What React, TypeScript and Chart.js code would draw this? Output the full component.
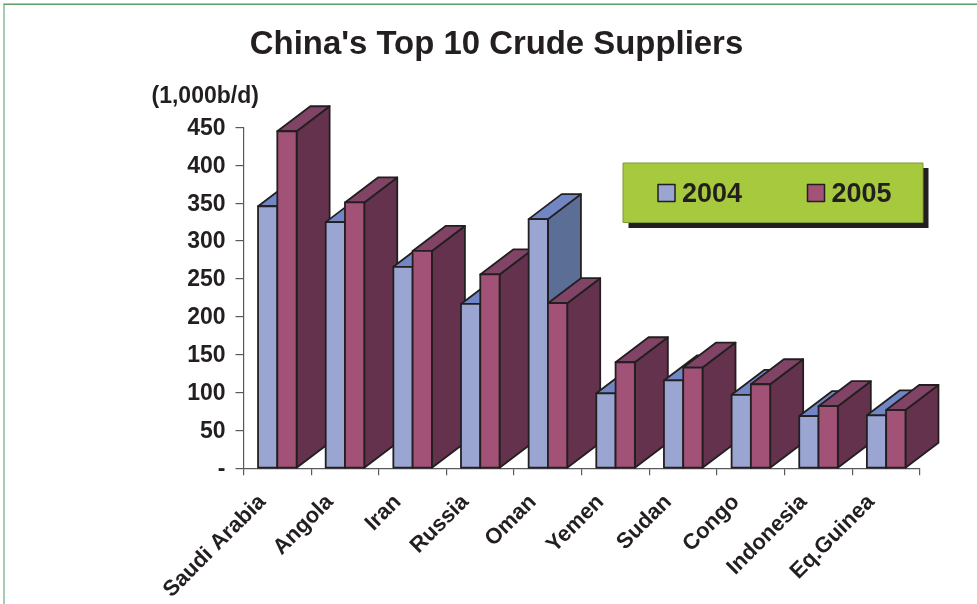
import React, { useEffect, useRef } from "react";
import { Chart, registerables } from "chart.js";

Chart.register(...registerables);

const categories = ["Saudi Arabia", "Angola", "Iran", "Russia", "Oman", "Yemen", "Sudan", "Congo", "Indonesia", "Eq.Guinea"];
const values2004 = [346, 325, 266, 217, 329, 99, 116, 97, 69, 70];
const values2005 = [445, 351, 287, 256, 218, 140, 133, 111, 82, 77];
const titleText = "China's Top 10 Crude Suppliers";
const unitLabel = "(1,000b/d)";

const INK = "#231f20";
const FONT = "'Liberation Sans', Arial, sans-serif";
const DEPTH_X = 33;
const DEPTH_Y = 25;
const faces = [
  { front: "#9aa5d2", top: "#7186c4", side: "#5b6f96" },
  { front: "#a35277", top: "#814466", side: "#64324c" },
];

function poly(ctx: CanvasRenderingContext2D, pts: number[][], fill: string) {
  ctx.beginPath();
  pts.forEach((p, i) => (i ? ctx.lineTo(p[0], p[1]) : ctx.moveTo(p[0], p[1])));
  ctx.closePath();
  ctx.fillStyle = fill;
  ctx.fill();
  ctx.stroke();
}

const scenePlugin = {
  id: "scene",
  beforeDraw(chart: any) {
    const { ctx, width, height } = chart;
    ctx.save();
    ctx.fillStyle = "#ffffff";
    ctx.fillRect(0, 0, width, height);
    ctx.fillStyle = "#a8ccb2";
    ctx.fillRect(3, 3, 2, height);
    ctx.fillRect(3, 3, width, 1);
    ctx.fillStyle = "#5d9e6e";
    ctx.fillRect(4, 4, width, 1);
    ctx.restore();
  },
  beforeDatasetDraw() {
    return false;
  },
  afterDatasetsDraw(chart: any) {
    const { ctx } = chart;
    ctx.save();
    ctx.lineWidth = 1.8;
    ctx.lineJoin = "round";
    ctx.strokeStyle = INK;
    categories.forEach((_, i) => {
      chart.data.datasets.forEach((_d: any, di: number) => {
        const bar = chart.getDatasetMeta(di).data[i].getProps(["x", "y", "base", "width"], true);
        const l = bar.x - bar.width / 2;
        const r = bar.x + bar.width / 2;
        const t = bar.y;
        const b = bar.base;
        const c = faces[di];
        poly(ctx, [[r, b], [r + DEPTH_X, b - DEPTH_Y], [r + DEPTH_X, t - DEPTH_Y], [r, t]], c.side);
        poly(ctx, [[l, t], [l + DEPTH_X, t - DEPTH_Y], [r + DEPTH_X, t - DEPTH_Y], [r, t]], c.top);
        poly(ctx, [[l, t], [r, t], [r, b], [l, b]], c.front);
      });
    });

    ctx.fillStyle = INK;
    ctx.font = `bold 23px ${FONT}`;
    ctx.textAlign = "left";
    ctx.textBaseline = "middle";
    ctx.fillText(unitLabel, 151.5, 96.5);

    // legend panel
    ctx.fillStyle = INK;
    ctx.fillRect(628.5, 168, 300, 60);
    ctx.fillStyle = "#a6c93e";
    ctx.fillRect(623, 163, 300, 59.5);
    ctx.strokeStyle = "#7f9a3a";
    ctx.lineWidth = 1;
    ctx.strokeRect(623, 163, 300, 59.5);
    const swatchX = [658, 807.5];
    chart.data.datasets.forEach((d: any, di: number) => {
      ctx.fillStyle = d.backgroundColor;
      ctx.strokeStyle = INK;
      ctx.lineWidth = 1.5;
      ctx.fillRect(swatchX[di], 184.5, 17, 17);
      ctx.strokeRect(swatchX[di], 184.5, 17, 17);
      ctx.fillStyle = INK;
      ctx.font = `bold 27px ${FONT}`;
      ctx.textBaseline = "middle";
      ctx.fillText(d.label, swatchX[di] + 24, 195);
    });
    ctx.restore();
  },
};

export default function App() {
  const ref = useRef<HTMLCanvasElement>(null);
  useEffect(() => {
    document.body.style.margin = "0";
    const chart = new Chart(ref.current!, {
      type: "bar",
      data: {
        labels: categories,
        datasets: [
          { label: "2004", data: values2004, backgroundColor: faces[0].front, borderColor: INK },
          { label: "2005", data: values2005, backgroundColor: faces[1].front, borderColor: INK },
        ],
      },
      options: {
        responsive: false,
        animation: false,
        devicePixelRatio: 1,
        layout: { padding: { left: 73, right: 57, top: 0, bottom: 0 } },
        datasets: { bar: { categoryPercentage: 0.57, barPercentage: 1 } },
        plugins: {
          legend: { display: false },
          tooltip: { enabled: false },
          title: {
            display: true,
            text: titleText,
            color: INK,
            font: { family: FONT, size: 32.9, weight: "bold", lineHeight: 1.2 },
            padding: { top: 25, bottom: 63 },
          },
        },
        scales: {
          x: {
            afterFit(s: any) { s.height = 135.7; },
            border: { color: "#58595b", width: 1.2 },
            grid: { drawOnChartArea: false, drawTicks: true, tickLength: 7, color: "#58595b", lineWidth: 1.2 },
            ticks: {
              autoSkip: false,
              minRotation: 45,
              maxRotation: 45,
              color: INK,
              padding: 14,
              labelOffset: -15,
              font: { family: FONT, size: 22, weight: "bold" },
            },
          },
          y: {
            min: 0,
            max: 450,
            afterFit(s: any) { s.width = 170.5; },
            border: { color: "#58595b", width: 1.2 },
            grid: { drawOnChartArea: false, drawTicks: true, tickLength: 8, color: "#58595b", lineWidth: 1.2 },
            ticks: {
              stepSize: 50,
              color: INK,
              padding: 10,
              labelOffset: 1,
              font: { family: FONT, size: 23, weight: "bold" },
              callback: (v: any) => (v === 0 ? "-" : String(v)),
            },
          },
        },
      },
      plugins: [scenePlugin],
    } as any);
    return () => chart.destroy();
  }, []);
  return (
    <div style={{ position: "absolute", left: 0, top: 0, width: 977, height: 604, overflow: "hidden" }}>
      <canvas ref={ref} width={977} height={604} style={{ display: "block" }} />
    </div>
  );
}
